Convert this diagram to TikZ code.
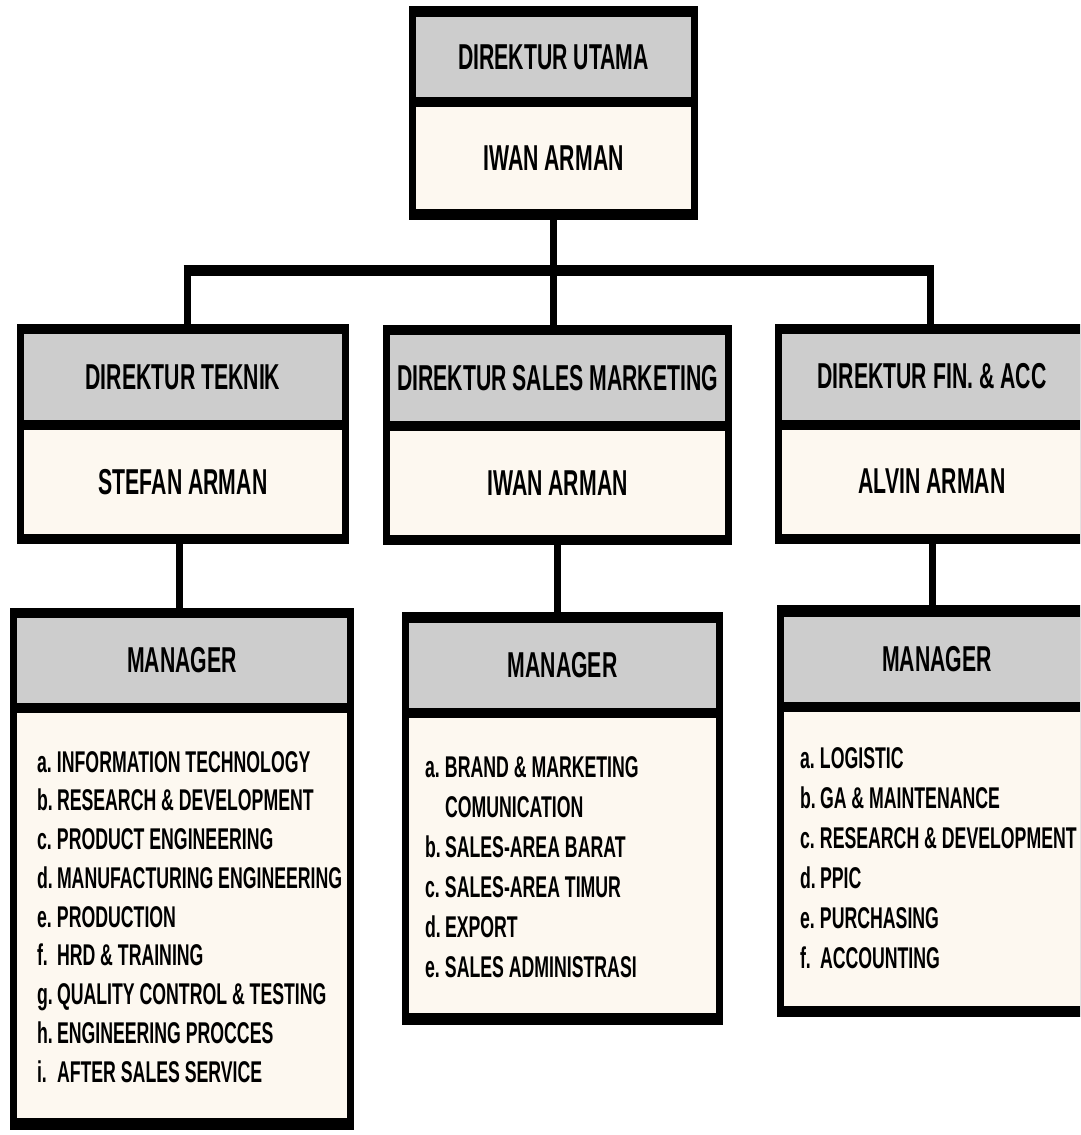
\documentclass[tikz,border=0pt]{standalone}
\usepackage{fontspec}
\setmainfont{Liberation Sans}[FakeStretch=0.59]
\definecolor{hdrgrey}{HTML}{CDCDCD}
\definecolor{cream}{HTML}{FDF8F0}
\newcommand{\itm}[1]{\makebox[20pt][l]{#1}}
\begin{document}
\begin{tikzpicture}[x=1pt,y=-1pt,
  frame/.style={fill=black, draw=none, inner sep=0pt, outer sep=0pt},
  hdr/.style={fill=hdrgrey, draw=none, inner sep=0pt, outer sep=0pt, font=\fontsize{36}{40}\selectfont\bfseries},
  bod/.style={fill=cream, draw=none, inner sep=0pt, outer sep=0pt, font=\fontsize{36}{40}\selectfont\bfseries},
  lst/.style={inner sep=0pt, outer sep=0pt, anchor=base west, align=left, font=\fontsize{30}{#1}\selectfont\bfseries},
  vline/.style={line width=7pt, line cap=butt},
  hline/.style={line width=11pt, line cap=butt}]
\useasboundingbox (0,0) rectangle (1080,1135);
\fill[white] (0,0) rectangle (1080,1135);
\clip (0,0) rectangle (1080,1135);

% ---- top
\node[frame, minimum width=289pt, minimum height=214pt] (tu) at (553.5,113) {};
\node[hdr, minimum width=275pt, minimum height=80pt] (tu-h) at (553.5,57) {DIREKTUR UTAMA};
\node[bod, minimum width=275pt, minimum height=102pt] (tu-b) at (553.5,158) {IWAN ARMAN};

% ---- second row
\node[frame, minimum width=332pt, minimum height=220pt] (dt) at (183,434) {};
\node[hdr, minimum width=318pt, minimum height=86pt] (dt-h) at (183,377) {DIREKTUR TEKNIK};
\node[bod, minimum width=318pt, minimum height=104pt] (dt-b) at (183,482) {STEFAN ARMAN};

\node[frame, minimum width=349pt, minimum height=220pt] (ds) at (557.5,434.5) {};
\node[hdr, minimum width=335pt, minimum height=86pt] (ds-h) at (557.5,378) {DIREKTUR SALES MARKETING};
\node[bod, minimum width=335pt, minimum height=104pt] (ds-b) at (557.5,483) {IWAN ARMAN};

\node[frame, minimum width=314pt, minimum height=220pt] (df) at (932,433.5) {};
\node[hdr, minimum width=300pt, minimum height=86pt] (df-h) at (932,376.5) {DIREKTUR FIN. \& ACC};
\node[bod, minimum width=300pt, minimum height=104pt] (df-b) at (932,481.5) {ALVIN ARMAN};

% ---- managers
\node[frame, minimum width=344pt, minimum height=522pt] (ml) at (182,869) {};
\node[hdr, minimum width=330pt, minimum height=85pt] (ml-h) at (182,660.5) {MANAGER};
\node[bod, minimum width=330pt, minimum height=405pt] (ml-b) at (182,915.5) {};

\node[frame, minimum width=321pt, minimum height=413pt] (mm) at (562.5,818.5) {};
\node[hdr, minimum width=307pt, minimum height=85pt] (mm-h) at (562.5,665.5) {MANAGER};
\node[bod, minimum width=307pt, minimum height=295pt] (mm-b) at (562.5,865.5) {};

\node[frame, minimum width=320pt, minimum height=412pt] (mr) at (937,811) {};
\node[hdr, minimum width=306pt, minimum height=85pt] (mr-h) at (937,659.5) {MANAGER};
\node[bod, minimum width=306pt, minimum height=294pt] (mr-b) at (937,859) {};

% ---- lists
\node[lst=38.75] (ml-l) at (37,772) {\begin{tabular}[t]{@{}l@{}}
\itm{a.}INFORMATION TECHNOLOGY\\
\itm{b.}RESEARCH \& DEVELOPMENT\\
\itm{c.}PRODUCT ENGINEERING\\
\itm{d.}MANUFACTURING ENGINEERING\\
\itm{e.}PRODUCTION\\
\itm{f.}HRD \& TRAINING\\
\itm{g.}QUALITY CONTROL \& TESTING\\
\itm{h.}ENGINEERING PROCCES\\
\itm{i.}AFTER SALES SERVICE
\end{tabular}};

\node[lst=40] (mm-l) at (425,777) {\begin{tabular}[t]{@{}l@{}}
\itm{a.}BRAND \& MARKETING\\
\itm{}COMUNICATION\\
\itm{b.}SALES-AREA BARAT\\
\itm{c.}SALES-AREA TIMUR\\
\itm{d.}EXPORT\\
\itm{e.}SALES ADMINISTRASI
\end{tabular}};

\node[lst=40] (mr-l) at (800,768) {\begin{tabular}[t]{@{}l@{}}
\itm{a.}LOGISTIC\\
\itm{b.}GA \& MAINTENANCE\\
\itm{c.}RESEARCH \& DEVELOPMENT\\
\itm{d.}PPIC\\
\itm{e.}PURCHASING\\
\itm{f.}ACCOUNTING
\end{tabular}};

% ---- connectors
\coordinate (busy) at (0,270.5);
\coordinate (bl) at (dt.north |- busy);
\coordinate (br) at (df.north |- busy);
\draw[hline] ([xshift=0.5pt]bl) -- ([xshift=1.5pt]br);
\draw[vline] ([xshift=4pt]bl) -- ([xshift=4pt]dt.north);
\draw[vline] ([xshift=-2pt]br) -- ([xshift=-2pt]df.north);
\draw[vline] (tu.south) -- (tu.south |- ds.north);

\coordinate (dtl) at ([xshift=-4pt]dt.south);
\draw[vline] (dtl) -- (dtl |- ml.north);
\draw[vline] (ds.south) -- (ds.south |- mm.north);
\draw[vline] (df.south) -- (df.south |- mr.north);
\end{tikzpicture}
\end{document}
